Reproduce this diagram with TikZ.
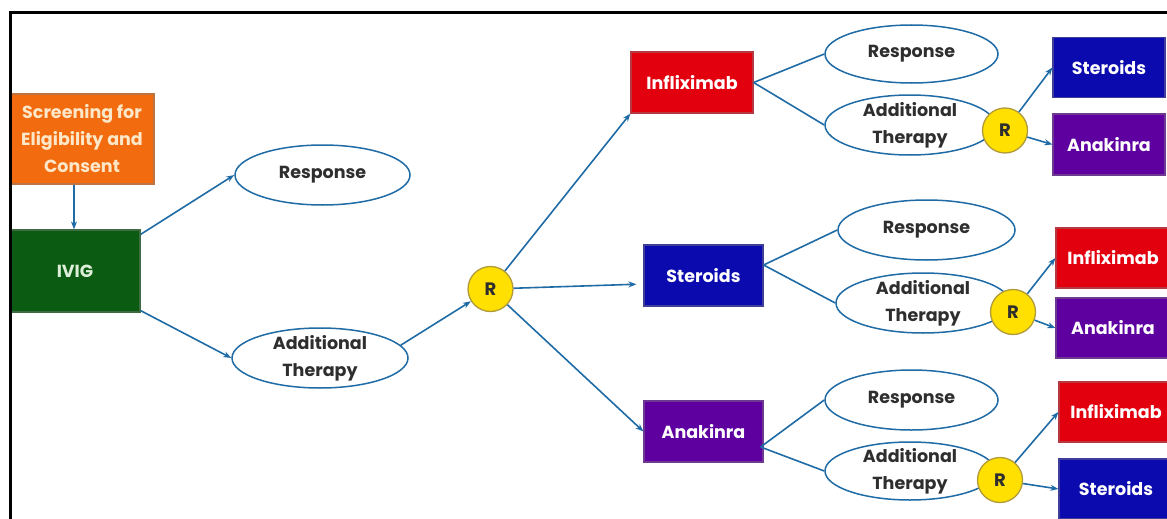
\documentclass[tikz,border=0pt]{standalone}
\usepackage{fontspec}
\setmainfont{Poppins}
\usetikzlibrary{shapes.geometric,arrows.meta}
\definecolor{lineblue}{HTML}{1F6BA5}
\definecolor{orangebox}{HTML}{F26B0F}
\definecolor{greenbox}{HTML}{0B5B12}
\definecolor{redbox}{HTML}{E2000F}
\definecolor{bluebox}{HTML}{0A0AAE}
\definecolor{purplebox}{HTML}{5E00A0}
\definecolor{ryellow}{HTML}{FFE000}
\definecolor{rborder}{HTML}{B09A3A}
\definecolor{txtdark}{HTML}{2E2E2E}
\definecolor{screentext}{HTML}{FCE8C8}
\definecolor{ivigtext}{HTML}{DDEFD8}
\begin{document}
\begin{tikzpicture}[x=1pt,y=-1pt,
  box/.style={rectangle, draw=#1!55!gray, line width=1.2pt, fill=#1, inner sep=0pt,
    text=white, font=\fontsize{17.5}{27}\selectfont\bfseries, align=center},
  ell/.style={ellipse, draw=lineblue, line width=1.5pt, inner sep=0pt, fill=white},
  elltext/.style={text=txtdark, font=\fontsize{17.5}{27}\selectfont\bfseries, align=center},
  rnode/.style={circle, fill=ryellow, draw=rborder, line width=1.3pt, minimum size=45pt,
    inner sep=0pt, font=\fontsize{18}{18}\selectfont\bfseries, text=txtdark},
  conn/.style={draw=lineblue, line width=1.6pt},
  arr/.style={conn, -{Stealth[length=8pt,width=6pt]}}]
\useasboundingbox (0,0) rectangle (1167,519);
\clip (0,0) rectangle (1167,519);

% left part
\node[box=orangebox, minimum width=144pt, minimum height=90pt, text=screentext] (screen) at (82,139) {Screening for\\Eligibility and\\Consent};
\node[box=greenbox, minimum width=130pt, minimum height=82pt, text=ivigtext] (ivig) at (75,271) {IVIG};
\node[ell, minimum width=175pt, minimum height=60pt, label={[elltext]center:Response}] (resp0) at (322.5,175) {};
\node[ell, minimum width=176pt, minimum height=60pt, label={[elltext]center:{Additional\\Therapy}}] (add0) at (320,358) {};
\node[rnode] (r0) at (490.5,289) {R};

% middle boxes
\node[box=redbox, minimum width=122pt, minimum height=61pt] (infl) at (692,82.5) {Infliximab};
\node[box=bluebox, minimum width=119pt, minimum height=61pt] (ster) at (703.5,275.5) {Steroids};
\node[box=purplebox, minimum width=119pt, minimum height=61pt] (anak) at (703.5,431.5) {Anakinra};

% top group
\node[ell, minimum width=173pt, minimum height=58pt, label={[elltext]center:Response}] (resp1) at (911.5,54) {};
\node[ell, minimum width=170pt, minimum height=60pt, label={[elltext]center:{Additional\\Therapy}}] (add1) at (910,125) {};
\node[rnode] (r1) at (1005,130.5) {R};
\node[box=bluebox, minimum width=112pt, minimum height=60pt] (ster1) at (1109,67.5) {Steroids};
\node[box=purplebox, minimum width=112pt, minimum height=61pt] (anak1) at (1109,144.5) {Anakinra};

% middle group
\node[ell, minimum width=177pt, minimum height=60pt, label={[elltext]center:Response}] (resp2) at (926.5,230) {};
\node[ell, minimum width=174pt, minimum height=60pt, label={[elltext]center:{Additional\\Therapy}}] (add2) at (923,303) {};
\node[rnode] (r2) at (1013,312) {R};
\node[box=redbox, minimum width=114pt, minimum height=60pt] (infl2) at (1113,258) {Infliximab};
\node[box=purplebox, minimum width=114pt, minimum height=60pt] (anak2) at (1113,328) {Anakinra};

% bottom group
\node[ell, minimum width=173pt, minimum height=60pt, label={[elltext]center:Response}] (resp3) at (911.5,400) {};
\node[ell, minimum width=170pt, minimum height=58pt, label={[elltext]center:{Additional\\Therapy}}] (add3) at (910,471) {};
\node[rnode] (r3) at (1000,480) {R};
\node[box=redbox, minimum width=114pt, minimum height=60pt] (infl3) at (1116,412) {Infliximab};
\node[box=bluebox, minimum width=114pt, minimum height=60pt] (ster3) at (1116,489) {Steroids};

% connectors
\draw[arr] ([xshift=-8pt]screen.south) -- ([xshift=-1pt]ivig.north);
\draw[arr] ([yshift=-5pt]ivig.north east) -- (resp0.west);
\draw[arr] ([yshift=2pt]ivig.south east) -- (add0.west);
\draw[arr] (add0.9) -- (r0);
\draw[arr] (r0) -- (infl.south west);
\draw[arr, shorten >=7pt] (r0) -- ([yshift=-8.5pt]ster.west);
\draw[arr] (r0) -- (anak.west);

\draw[conn] (infl.east) -- (resp1.west);
\draw[conn] (infl.east) -- (add1.west);
\draw[conn] ([yshift=10.5pt]ster.east) -- (resp2.west);
\draw[conn] ([yshift=10.5pt]ster.east) -- (add2.west);
\draw[conn] ([xshift=-3pt,yshift=-15.5pt]anak.east) -- (resp3.west);
\draw[conn] ([xshift=-3pt,yshift=-15.5pt]anak.east) -- (add3.west);

\draw[arr] (r1) -- (ster1.west);
\draw[arr] (r1) -- (anak1.west);
\draw[arr] (r2) -- (infl2.west);
\draw[arr] (r2) -- (anak2.west);
\draw[arr] (r3) -- (infl3.west);
\draw[arr] (r3) -- (ster3.west);

% frame
\draw[line width=3pt] (10,540) -- (10,13) -- (1190,13);
\end{tikzpicture}
\end{document}
